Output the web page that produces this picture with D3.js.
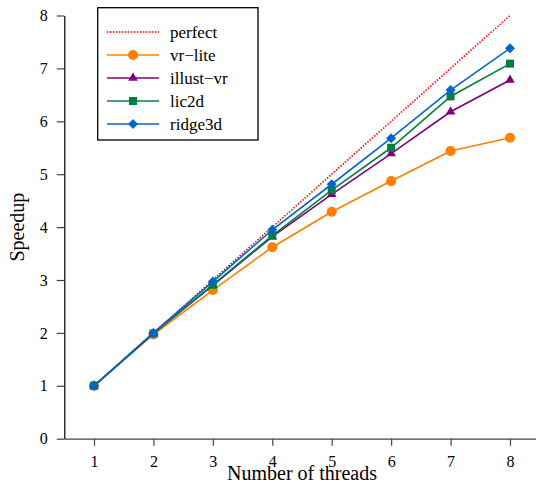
<!DOCTYPE html>
<html>
<head>
<meta charset="utf-8">
<script src="https://cdn.jsdelivr.net/npm/d3@7"></script>
<style>
  body { margin: 0; background: #fff; }
  svg text { font-family: "Liberation Serif", "DejaVu Serif", serif; fill: #000; }
</style>
</head>
<body>
<div id="chart"></div>
<script>
// chart data
let threads = [1, 2, 3, 4, 5, 6, 7, 8];
let perfect = [1, 2, 3, 4, 5, 6, 7, 8];
let vrLite = [1, 1.97, 2.81, 3.62, 4.29, 4.87, 5.44, 5.69];
let illustVr = [1, 1.99, 2.90, 3.82, 4.62, 5.39, 6.18, 6.78];
let lic2d = [1, 1.99, 2.91, 3.84, 4.70, 5.50, 6.47, 7.09];
let ridge3d = [1, 2.00, 2.97, 3.95, 4.81, 5.68, 6.59, 7.38];
let seriesNames = ["perfect", "vr\u2212lite", "illust\u2212vr", "lic2d", "ridge3d"];
let yTicks = [0, 1, 2, 3, 4, 5, 6, 7, 8];

let svgWidth = 536;
let svgHeight = 483;

let svg = d3.select("#chart")
    .append("svg")
    .attr("width", svgWidth)
    .attr("height", svgHeight);

let x = d3.scaleLinear().domain([0.5, 8.5]).range([64.3, 539.7]);
let y = d3.scaleLinear().domain([0, 8]).range([438.7, 15.5]);

// series styling
let series = [
    { name: seriesNames[0], values: perfect, color: "#ff0000", marker: null, dash: "1.5,1.5" },
    { name: seriesNames[1], values: vrLite, color: "#ff8000", marker: "circle" },
    { name: seriesNames[2], values: illustVr, color: "#800080", marker: "triangle" },
    { name: seriesNames[3], values: lic2d, color: "#008040", marker: "square" },
    { name: seriesNames[4], values: ridge3d, color: "#0066cc", marker: "diamond" }
];

// diamond = square turned 45 degrees
let symbolSize = { circle: 80, triangle: 40, square: 64, diamond: 50 };
let symbolType = {
    circle: d3.symbolCircle,
    triangle: d3.symbolTriangle,
    square: d3.symbolSquare,
    diamond: d3.symbolSquare
};
let symbolRotate = { circle: 0, triangle: 0, square: 0, diamond: 45 };

// x axis
let xAxis = svg.append("g")
    .attr("transform", `translate(0, ${y(0)})`)
    .call(d3.axisBottom(x).tickValues(threads).tickSize(7).tickSizeOuter(0).tickPadding(10));
xAxis.select(".domain").attr("stroke", "#444").attr("stroke-width", 1.2);
xAxis.selectAll(".tick line").attr("stroke", "#444").attr("stroke-width", 1.2);
xAxis.selectAll("text").style("font-size", "16px");

// y axis
let yAxis = svg.append("g")
    .attr("transform", `translate(${x(0.5)}, 0)`)
    .call(d3.axisLeft(y).tickValues(yTicks).tickSize(7.5).tickSizeOuter(0).tickPadding(9));
yAxis.select(".domain").attr("stroke", "#000").attr("stroke-width", 1.2);
yAxis.selectAll(".tick line").attr("stroke", "#444").attr("stroke-width", 1.2);
yAxis.selectAll("text").style("font-size", "16px");

// axis titles
svg.append("text")
    .attr("x", (x(0.5) + x(8.5)) / 2)
    .attr("y", 480)
    .attr("text-anchor", "middle")
    .style("font-size", "20px")
    .text("Number of threads");

svg.append("text")
    .attr("transform", `translate(24, ${(y(0) + y(8)) / 2}) rotate(-90)`)
    .attr("text-anchor", "middle")
    .style("font-size", "20px")
    .text("Speedup");

// lines and markers
let line = d3.line()
    .x((d, i) => x(threads[i]))
    .y(d => y(d));

series.forEach(s => {
    svg.append("path")
        .datum(s.values)
        .attr("fill", "none")
        .attr("stroke", s.color)
        .attr("stroke-width", 1.6)
        .attr("stroke-dasharray", s.dash || null)
        .attr("d", line);

    if (s.marker) {
        svg.append("g")
            .selectAll("path")
            .data(s.values)
            .enter()
            .append("path")
            .attr("transform", (d, i) => `translate(${x(threads[i])}, ${y(d)}) rotate(${symbolRotate[s.marker]})`)
            .attr("d", d3.symbol().type(symbolType[s.marker]).size(symbolSize[s.marker]))
            .attr("fill", s.color);
    }
});

// legend
let legend = svg.append("g");
legend.append("rect")
    .attr("x", 97.7)
    .attr("y", 7.7)
    .attr("width", 160.3)
    .attr("height", 132.3)
    .attr("fill", "#fff")
    .attr("stroke", "#000")
    .attr("stroke-width", 1.3);

series.forEach((s, i) => {
    let ly = 32 + i * 23;
    legend.append("line")
        .attr("x1", 107).attr("x2", 159)
        .attr("y1", ly).attr("y2", ly)
        .attr("stroke", s.color)
        .attr("stroke-width", 1.6)
        .attr("stroke-dasharray", s.dash || null);
    if (s.marker) {
        legend.append("path")
            .attr("transform", `translate(133, ${ly}) rotate(${symbolRotate[s.marker]})`)
            .attr("d", d3.symbol().type(symbolType[s.marker]).size(symbolSize[s.marker]))
            .attr("fill", s.color);
    }
    legend.append("text")
        .attr("x", 170)
        .attr("y", ly + 5.5)
        .style("font-size", "17px")
        .text(s.name);
});
</script>
</body>
</html>
